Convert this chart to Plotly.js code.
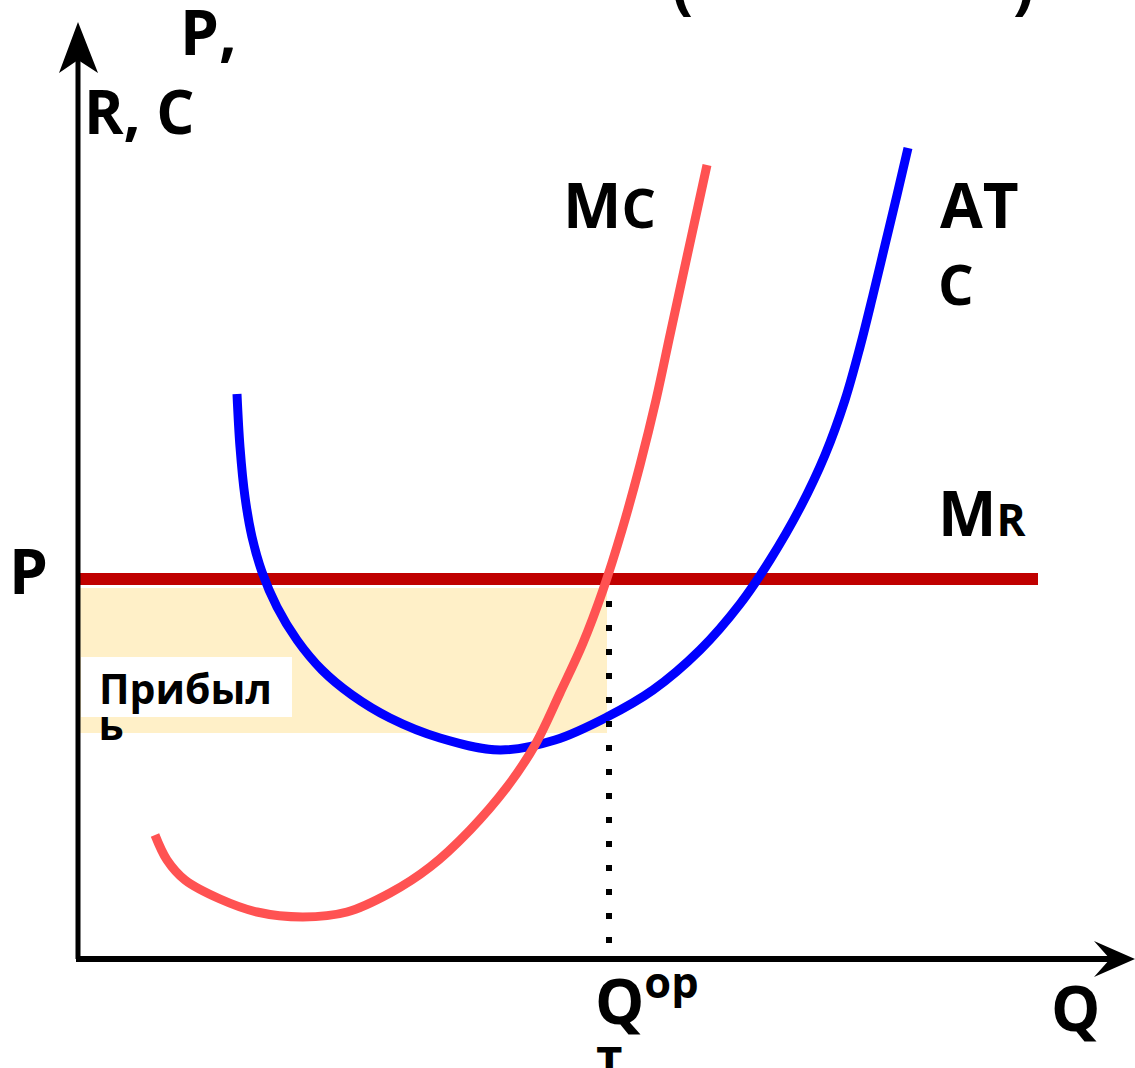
<!DOCTYPE html>
<html>
<head>
<meta charset="utf-8">
<script src="https://cdn.plot.ly/plotly-3.0.1.min.js"></script>
<style>
  html, body { margin: 0; padding: 0; background: #ffffff; }
  #chart { width: 1135px; height: 1068px; }
</style>
</head>
<body>
<div id="chart"></div>
<script>
// Firm under perfect competition: ATC, MC and MR = P, profit area up to Q opt.
// Units: quantity Q along x, price/revenue/cost along y.

// Average total cost curve
const atcQ = [159, 162, 167, 174, 184, 199, 219, 244, 274, 312, 362, 422, 477, 529, 575, 622, 662, 692, 722, 747, 767, 782, 795, 807, 819, 830];
const atcP = [565, 512, 462, 422, 387, 352, 319, 289, 264, 241, 221, 209, 219, 242, 269, 309, 355, 399, 451, 504, 559, 612, 664, 714, 764, 811];

// Marginal cost curve
const mcQ = [77, 89, 107, 142, 179, 225, 269, 312, 352, 392, 429, 457, 482, 505, 525, 544, 562, 578, 592, 605, 617, 629];
const mcP = [124, 99, 79, 60, 47, 42, 47, 66, 92, 129, 172, 214, 266, 316, 369, 429, 494, 559, 624, 684, 739, 794];

// Marginal revenue = market price
const mrQ = [0, 960];
const price = 380;

// Optimal output (MC = MR) and the profit area
const qOpt = 531;
const profitQ = [0, 529];
const profitP = [226, 371];

// Axis extents
const qMax = 1057;
const pMax = 937;

const FONT = 'Open Sans, Noto Sans, DejaVu Sans, sans-serif';

const traces = [
  {
    // profit rectangle
    x: [profitQ[0], profitQ[1], profitQ[1], profitQ[0]],
    y: [profitP[0], profitP[0], profitP[1], profitP[1]],
    mode: 'lines', fill: 'toself', fillcolor: '#FFF0C8',
    line: { width: 0, color: 'rgba(0,0,0,0)' }, hoverinfo: 'skip'
  },
  {
    // tail of the profit caption, partly hidden under its white plate
    x: [33], y: [229], mode: 'text', text: ['ь'],
    textposition: 'middle center',
    textfont: { family: FONT, size: 41, color: '#000000', weight: 'bold' },
    hoverinfo: 'skip'
  },
  {
    x: mrQ, y: [price, price], mode: 'lines',
    line: { color: '#C00000', width: 12 }, hoverinfo: 'skip'
  },
  {
    x: atcQ, y: atcP, mode: 'lines',
    line: { color: '#0000FF', width: 9, shape: 'spline', smoothing: 1 }, hoverinfo: 'skip'
  },
  {
    x: mcQ, y: mcP, mode: 'lines',
    line: { color: '#FF5252', width: 9, shape: 'spline', smoothing: 1 }, hoverinfo: 'skip'
  },
  {
    x: [qOpt, qOpt], y: [358, 16], mode: 'lines',
    line: { color: '#000000', width: 6, dash: '6px,18px' }, hoverinfo: 'skip'
  }
];

const shapes = [
  // white plate behind the profit caption
  { type: 'rect', xref: 'x', yref: 'y', x0: 3, x1: 214, y0: 242, y1: 302,
    fillcolor: '#FFFFFF', line: { width: 0 }, layer: 'above' },
  // vertical axis with arrowhead
  { type: 'line', xref: 'x', yref: 'y', x0: 0, y0: 0, x1: 0, y1: pMax - 38,
    line: { color: '#000000', width: 5 }, layer: 'above' },
  { type: 'path', xref: 'x', yref: 'y',
    path: `M0,${pMax} L-19,${pMax - 51} L0,${pMax - 38} L20,${pMax - 51} Z`,
    fillcolor: '#000000', line: { width: 0 }, layer: 'above' },
  // horizontal axis with arrowhead
  { type: 'line', xref: 'x', yref: 'y', x0: -2, y0: 0, x1: qMax - 24, y1: 0,
    line: { color: '#000000', width: 6 }, layer: 'above' },
  { type: 'path', xref: 'x', yref: 'y',
    path: `M${qMax},0 L${qMax - 41},18 L${qMax - 25},0 L${qMax - 41},-18 Z`,
    fillcolor: '#000000', line: { width: 0 }, layer: 'above' }
];

function label(text, x, y, size, extra) {
  return Object.assign({
    text: text, x: x, y: y, xref: 'x', yref: 'y',
    xanchor: 'left', yanchor: 'middle', showarrow: false,
    font: { family: FONT, size: size, color: '#000000', weight: 'bold' }
  }, extra || {});
}

const annotations = [
  label('P,', 100, 928, 62),
  label('R, C', 4, 848, 60),
  label('P', -71, 389, 62),
  label('M<span style="font-size:54px">C</span>', 483, 755, 62),
  label('AT', 860, 755, 62),
  label('C', 858, 676, 56),
  label('M<span style="font-size:44px">R</span>', 858, 447, 62),
  label('Q<sup>op</sup>', 515, -38, 62),
  label('т', 516, -96, 48),
  label('Q', 971, -48, 62),
  label('Прибыл', 19, 271, 41),
  label('(', 592, 932, 62, { yanchor: 'bottom' }),
  label(')', 933, 932, 62, { yanchor: 'bottom' })
];

const layout = {
  width: 1135, height: 1068,
  margin: { l: 0, r: 0, t: 0, b: 0, pad: 0 },
  paper_bgcolor: '#FFFFFF', plot_bgcolor: '#FFFFFF',
  showlegend: false,
  xaxis: { range: [-78, qMax], visible: false, fixedrange: true },
  yaxis: { range: [-109, 959], visible: false, fixedrange: true },
  shapes: shapes,
  annotations: annotations
};

Plotly.newPlot('chart', traces, layout, { staticPlot: true, displayModeBar: false });
</script>
</body>
</html>
